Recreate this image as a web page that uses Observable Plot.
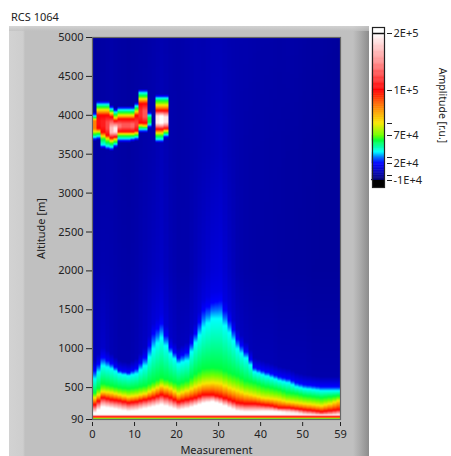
<!DOCTYPE html>
<html><head><meta charset="utf-8">
<script src="https://cdn.jsdelivr.net/npm/d3@7"></script>
<script src="https://cdn.jsdelivr.net/npm/@observablehq/plot@0.6"></script>
<style>
html,body{margin:0;padding:0;background:#fff;overflow:hidden}
#root{position:relative;width:451px;height:456px;font-family:"Noto Sans",sans-serif}
#panel{position:absolute;left:9px;top:26px;width:360px;height:430px;
background:linear-gradient(90deg,#d2d2d2 0,#cecece 14px,#c0c0c0 16px,#c0c0c0 344px,#a8a8a8 352px,#8c8c8c 360px)}
#panel:before{content:"";position:absolute;left:0;right:0;top:0;height:5px;background:linear-gradient(180deg,#d8d8d8,#c0c0c0);opacity:.7}
#title{position:absolute;left:11px;top:9px;font-size:11px;color:#222;line-height:15px}
#root svg{position:absolute;left:0;top:0;background:transparent}
</style></head><body>
<div id="root"><div id="panel"></div><div id="title">RCS 1064</div></div>
<script>
// amplitude colour ramp
const colorStops=[-10000,-9000,20000,30000,40000,60000,70000,80000,90000,100000,150000,200000];
const colorRamp=["#000000","#000070","#0000ff","#0070ff","#00ffff","#00ff40","#70ff00","#f8e800","#ff8000","#ff0000","#ff9090","#ffffff"];
// measurements at which contours were read
const measurements=[0,2,4,6,8,10,12,14,16,18,20,22,24,26,28,30,32,34,36,38,40,42,44,46,48,50,52,54,56,58,59];
// altitude [m] of amplitude contours per measurement
const altBlue  =[717,884,807,717,691,743,884,1190,1320,1015,884,950,1190,1490,1590,1617,1360,1120,960,756,717,678,640,614,563,537,524,511,511,511,511];
const altCyan  =[614,781,743,678,653,678,781,1000,1141,936,807,846,1077,1270,1386,1386,1205,1000,880,704,666,627,588,563,511,486,473,460,460,460,460];
const altGreen =[434,550,524,500,486,500,524,576,627,588,550,588,678,743,756,743,691,653,588,563,524,498,473,434,421,396,383,370,383,396,396];
const altYellow=[370,447,434,408,383,396,421,473,524,486,421,460,511,550,563,550,498,460,421,396,370,357,344,318,305,292,280,267,292,331,331];
const altRed   =[280,370,344,331,305,318,344,370,408,370,318,344,370,408,408,383,344,305,292,292,280,267,241,241,228,215,203,190,203,215,215];
const altWhite =[177,250,235,215,195,205,230,255,280,245,210,230,265,300,320,290,240,200,190,190,195,195,190,185,180,165,160,150,155,160,160];
const valWhite =[200000,200000,200000,200000,200000,200000,200000,200000,200000,200000,200000,200000,200000,200000,200000,200000,200000,200000,200000,200000,200000,200000,200000,190000,185000,175000,170000,165000,170000,180000,180000];
// faint background amplitude, above the plume
const bg5000=[1000,1500,2500,1500,1000,1500,2000,3000,4000,3000,2500,3500,4500,4000,5000,5000,4000,3500,3500,3000,2500,2500,2000,2500,2000,1500,1000,1000,500,0,0];
const bg3500=[1500,2000,2500,1500,1000,2000,3000,4000,6000,3500,2500,3000,4000,5000,6000,7000,5000,3500,2500,2000,2000,1500,1500,1000,1000,500,500,0,0,0,0];
const bg2000=[3000,4000,3500,2500,2000,3000,5000,7000,8500,5000,3000,3000,6000,9000,12000,13000,8000,4000,2500,2000,1500,1500,1000,1000,500,500,0,0,0,0,0];
const valFade=[6000,9000,5000,3000,3000,5000,8000,12000,14000,9000,6000,7000,10000,13000,15000,15000,12000,8000,6000,5000,5000,5000,4000,4000,4000,4000,3000,3000,3000,3000,3000];
// thin layers next to the ground
const groundAlts=[90,95,108,122,135,150];
const groundVals=[60000,60000,80000,100000,130000,200000];
// cloud layer, one column per measurement 0..17
const cyanHigh  =[3990,4140,4140,4140,4080,4040,4070,4070,4070,4070,4120,4290,4290,4000,null,4220,4220,4220];
const greenHigh =[3970,4110,4110,4110,4060,4010,4040,4040,4040,4040,4090,4250,4250,3970,null,4190,4190,4190];
const yellowHigh=[3950,4070,4070,4070,4030,3970,4000,4000,4000,4000,4050,4210,4210,3970,null,4130,4130,4130];
const redHigh   =[3930,4000,4000,4000,3980,3930,3950,3950,3950,3950,4000,4150,4150,3970,null,4060,4060,4060];
const peakHigh  =[3930,3930,3930,3910,3840,3840,3880,3890,3890,3890,3910,4060,4060,3970,null,3990,3990,3980];
const peakLow   =[3830,3890,3860,3830,3780,3790,3850,3850,3850,3850,3870,3990,3980,3910,null,3900,3900,3910];
const redLow    =[3830,3830,3780,3740,3710,3720,3790,3790,3790,3790,3800,3900,3900,3910,null,3820,3820,3830];
const yellowLow =[3790,3790,3730,3700,3670,3690,3760,3760,3760,3760,3770,3870,3860,3910,null,3770,3770,3800];
const greenLow  =[3750,3760,3690,3650,3630,3650,3730,3730,3730,3730,3740,3840,3840,3910,null,3730,3730,3770];
const cyanLow   =[3720,3730,3620,3600,3590,3630,3700,3700,3700,3710,3720,3820,3820,3880,null,3690,3690,3750];
const peakVal   =[90000,105000,110000,125000,170000,190000,140000,130000,130000,135000,120000,115000,130000,60000,null,190000,200000,190000];
// tick values
const xTicks=[0,10,20,30,40,50,59];
const yTicks=[90,500,1000,1500,2000,2500,3000,3500,4000,4500,5000];
const legendDomain=[-14000,-10000,0,20000,30000,70000,80000,100000,200000,210000];
const legendLabelled=[200000,100000,70000,20000,-10000];
const legendLabels=["2E+5","1E+5","7E+4","2E+4","-1E+4"];
const legendExtra=[80000,30000,0];

const colorScale={type:"linear",domain:colorStops,range:colorRamp,clamp:true};
const font='"Noto Sans",sans-serif';

// contour rows, from the ground upward
const same=v=>measurements.map(()=>v);
const rows=[
 ...groundAlts.map((a,k)=>({alt:same(a),val:same(groundVals[k])})),
 {alt:altWhite,val:valWhite},
 {alt:altRed,val:same(100000)},
 {alt:altYellow,val:same(80000)},
 {alt:altGreen,val:same(60000)},
 {alt:altCyan,val:same(40000)},
 {alt:altBlue,val:same(20000)},
 {alt:altBlue.map(a=>a+130),val:valFade},
 {alt:same(2000),val:bg2000},
 {alt:same(3500),val:bg3500},
 {alt:same(5000),val:bg5000}
];
function along(alts,vals,alt){
  for(let j=0;j<alts.length-1;j++){
    if(alt<=alts[j+1]){
      const d=alts[j+1]-alts[j];
      return d>0?vals[j]+(vals[j+1]-vals[j])*(alt-alts[j])/d:vals[j+1];
    }
  }
  return vals[vals.length-1];
}
// amplitude seen in a measurement column (one column spans m..m+1)
function amplitude(mx,alt){
  const c=Math.min(58,Math.floor(mx));
  if(c<cyanLow.length&&cyanLow[c]!=null&&alt>cyanLow[c]-45&&alt<cyanHigh[c]+45){
    const p=peakVal[c],lim=v=>Math.min(v,p);
    return along(
      [cyanLow[c]-45,cyanLow[c],greenLow[c],yellowLow[c],redLow[c],peakLow[c],peakHigh[c],redHigh[c],yellowHigh[c],greenHigh[c],cyanHigh[c],cyanHigh[c]+45],
      [8000,lim(40000),lim(60000),lim(80000),lim(100000),p,p,lim(100000),lim(80000),lim(60000),lim(40000),8000],alt);
  }
  const i=Math.min(measurements.length-2,d3.bisectRight(measurements,c)-1);
  const t=(c-measurements[i])/(measurements[i+1]-measurements[i]);
  const alts=rows.map(r=>r.alt[i]+(r.alt[i+1]-r.alt[i])*t);
  const vals=rows.map(r=>r.val[i]+(r.val[i+1]-r.val[i])*t);
  return along(alts,vals,alt);
}

const main=Plot.plot({
  width:451,height:456,marginLeft:92,marginRight:111,marginTop:37,marginBottom:37,
  style:{fontFamily:font,fontSize:"11px",color:"#222",background:"transparent"},
  x:{domain:[0,59]},
  y:{domain:[90,5000]},
  color:colorScale,
  marks:[
    Plot.raster({fill:amplitude,x1:0,x2:59,y1:90,y2:5000,pixelSize:1}),
    Plot.frame({stroke:"#666",strokeWidth:1.2}),
    Plot.axisY({ticks:yTicks,tickFormat:d=>String(d),tickSize:6,tickPadding:3,label:"Altitude [m]",labelAnchor:"center",labelArrow:"none",labelOffset:55,stroke:"#222"}),
    Plot.axisX({ticks:xTicks,tickFormat:d=>String(d),tickSize:4,tickPadding:4,dy:3,label:"Measurement",labelAnchor:"center",labelArrow:"none",labelOffset:34,stroke:"#222"})
  ]
});
document.getElementById("root").appendChild(main);

// colour-bar: thin slices between consecutive amplitudes
const ramp=[];
for(let k=0;k<colorStops.length-1;k++){
  const a=colorStops[k],b=colorStops[k+1],n=24;
  for(let j=0;j<n;j++){ramp.push({y1:a+(b-a)*j/n,y2:a+(b-a)*(j+1)/n,v:a+(b-a)*(j+.5)/n});}
}
const legend=Plot.plot({
  width:451,height:200,marginLeft:372,marginRight:67,marginTop:27,marginBottom:13,
  style:{fontFamily:font,fontSize:"11px",color:"#222",background:"transparent"},
  x:{domain:[0,1],axis:null},
  y:{type:"linear",domain:legendDomain,range:[187,180,175,163,157,135,123,90,33,27]},
  color:colorScale,
  marks:[
    Plot.rect(ramp,{x1:0,x2:1,y1:"y1",y2:"y2",fill:"v",stroke:"v",strokeWidth:.4}),
    Plot.rect([{a:-14000,b:-10000}],{x1:0,x2:1,y1:"a",y2:"b",fill:"#000"}),
    Plot.ruleY([200000],{x1:0,x2:1,stroke:"#111",strokeWidth:1.5}),
    Plot.frame({stroke:"#222",strokeWidth:1.2}),
    Plot.axisY({anchor:"right",ticks:legendLabelled,tickFormat:d=>legendLabels[legendLabelled.indexOf(d)],tickSize:5,tickPadding:2,dx:2,label:null,stroke:"#222"}),
    Plot.axisY({anchor:"right",ticks:legendExtra,tickFormat:()=>"",tickSize:5,dx:2,label:null,stroke:"#222"}),
    Plot.text(["Amplitude [r.u.]"],{frameAnchor:"right",dx:58,dy:-2,rotate:90,textAnchor:"middle",fill:"#222",fontSize:10.5})
  ]
});
document.getElementById("root").appendChild(legend);
</script>
</body></html>
